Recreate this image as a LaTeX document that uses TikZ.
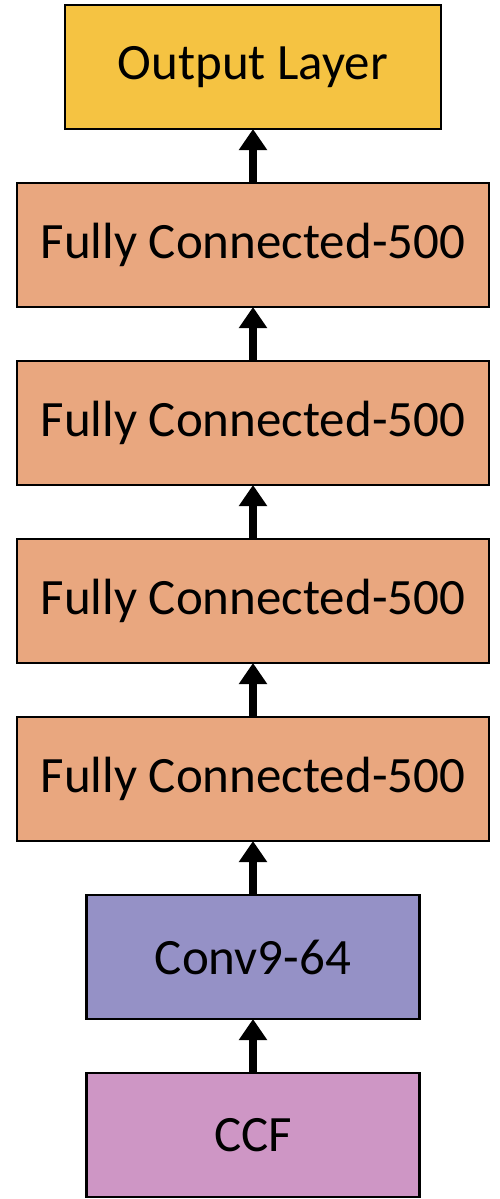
\documentclass[tikz,border=0pt]{standalone}
\usepackage{fontspec}
\setmainfont{Carlito}
\usetikzlibrary{positioning,arrows.meta}

\definecolor{outcol}{HTML}{F5C342}
\definecolor{fccol}{HTML}{E9A77F}
\definecolor{convcol}{HTML}{9591C6}
\definecolor{ccfcol}{HTML}{CE96C5}

\tikzset{
  layer/.style={draw=black, line width=1.6pt, minimum height=2.48cm,
    inner sep=0pt, outer sep=0pt, font=\fontsize{29}{35}\selectfont},
  flow/.style={line width=4pt, -{Triangle[width=0.54cm,length=0.42cm]}}
}

\begin{document}
\begin{tikzpicture}
	\useasboundingbox (0,0) rectangle (10,-23.98);

	\node[layer, fill=outcol, minimum width=7.52cm] (out) at (5.06,-1.34) {Output Layer};

	\node[layer, fill=fccol, minimum width=9.44cm, below=1.08cm of out] (fc1) {Fully Connected-500};
	\node[layer, fill=fccol, minimum width=9.44cm, below=1.08cm of fc1] (fc2) {Fully Connected-500};
	\node[layer, fill=fccol, minimum width=9.44cm, below=1.08cm of fc2] (fc3) {Fully Connected-500};
	\node[layer, fill=fccol, minimum width=9.44cm, below=1.08cm of fc3] (fc4) {Fully Connected-500};

	\node[layer, fill=convcol, minimum width=6.66cm, below=1.08cm of fc4] (conv) {Conv9-64};
	\node[layer, fill=ccfcol, minimum width=6.66cm, below=1.08cm of conv] (ccf) {CCF};

	\draw[flow] (ccf) -- (conv);
	\draw[flow] (conv) -- (fc4);
	\draw[flow] (fc4) -- (fc3);
	\draw[flow] (fc3) -- (fc2);
	\draw[flow] (fc2) -- (fc1);
	\draw[flow] (fc1) -- (out);

\end{tikzpicture}
\end{document}
